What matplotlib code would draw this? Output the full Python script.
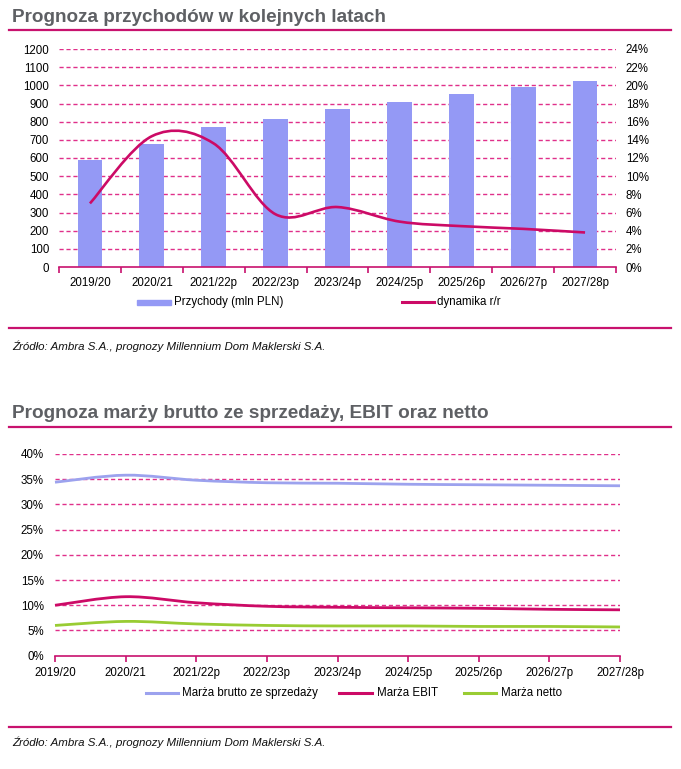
import numpy as np
import matplotlib
matplotlib.use("Agg")
import matplotlib.pyplot as plt
from matplotlib.path import Path
from matplotlib.patches import PathPatch, Rectangle
from matplotlib.lines import Line2D
from matplotlib.ticker import FuncFormatter

plt.rcParams['font.family'] = ['Liberation Sans', 'DejaVu Sans']

# ---------------- data ----------------
years_top = ["2019/20", "2020/21", "2021/22p", "2022/23p", "2023/24p",
             "2024/25p", "2025/26p", "2026/27p", "2027/28p"]
revenue = [590, 675, 772, 812, 868, 906, 950, 992, 1025]          # mln PLN
growth = [7.0, 14.4, 13.6, 5.8, 6.6, 5.0, 4.5, 4.2, 3.8]           # %

years_bot = ["2019/20", "2020/21", "2021/22p", "2022/23p", "2023/24p",
             "2024/25p", "2025/26p", "2026/27p", "2027/28p"]
gross_margin = [34.4, 35.8, 34.8, 34.3, 34.2, 34.0, 33.9, 33.8, 33.7]
ebit_margin = [10.0, 11.7, 10.5, 9.8, 9.6, 9.5, 9.4, 9.2, 9.1]
net_margin = [6.0, 6.8, 6.3, 6.0, 5.9, 5.9, 5.8, 5.8, 5.7]

title_top = "Prognoza przychodów w kolejnych latach"
title_bot = "Prognoza marży brutto ze sprzedaży, EBIT oraz netto"
source = "Źródło: Ambra S.A., prognozy Millennium Dom Maklerski S.A."

# ---------------- style ----------------
W, H = 681, 769
MAG = '#C8126E'
GRID = '#E0308A'
BAR = '#9499F5'
GRAY = '#5E6064'
C_GROSS = '#9CA2EE'
C_EBIT = '#CC0A66'
C_NET = '#99CC33'
FS = 8.3

fig = plt.figure(figsize=(W / 100, H / 100), dpi=100)


def fx(x):
    return x / W


def fy(y):
    return 1 - y / H


def smooth_path(xs, ys):
    pts = np.column_stack([xs, ys]).astype(float)
    n = len(pts)
    verts = [pts[0]]
    codes = [Path.MOVETO]
    for i in range(n - 1):
        p0 = pts[i - 1] if i > 0 else pts[i]
        p1 = pts[i]
        p2 = pts[i + 1]
        p3 = pts[i + 2] if i + 2 < n else pts[i + 1]
        c1 = p1 + (p2 - p0) / 6
        c2 = p2 - (p3 - p1) / 6
        verts += [c1, c2, p2]
        codes += [Path.CURVE4] * 3
    return Path(verts, codes)


def hline(y, x0=9, x1=671, lw=1.6):
    fig.add_artist(Line2D([fx(x0), fx(x1)], [fy(y), fy(y)], color=MAG, lw=lw,
                          transform=fig.transFigure))


# ---------------- titles / separators ----------------
fig.text(fx(12), fy(17), title_top, fontsize=13.6, fontweight='bold', color=GRAY,
         va='center', ha='left')
hline(30)
hline(328)
fig.text(fx(12), fy(346), source, fontsize=8.25, style='italic', color='#111111',
         va='center', ha='left')

fig.text(fx(12), fy(413), title_bot, fontsize=13.7, fontweight='bold', color=GRAY,
         va='center', ha='left')
hline(427)
hline(727)
fig.text(fx(12), fy(742), source, fontsize=8.25, style='italic', color='#111111',
         va='center', ha='left')

# ---------------- top chart ----------------
ax = fig.add_axes([fx(59), fy(267), fx(616) - fx(59), fy(49) - fy(267)])
x = np.arange(len(years_top))
ax.bar(x, revenue, width=0.40, color=BAR, zorder=3)
ax.set_xlim(-0.5, len(years_top) - 0.5)
ax.set_ylim(0, 1200)
ax.set_yticks(np.arange(0, 1201, 100))
for v in range(100, 1201, 100):
    ax.axhline(v, color=GRID, lw=1.0, ls=(0, (3, 2)), zorder=1)
for s in ['top', 'left', 'right']:
    ax.spines[s].set_visible(False)
ax.spines['bottom'].set_color(MAG)
ax.spines['bottom'].set_linewidth(1.2)
ax.spines['bottom'].set_zorder(4)
ax.set_xticks(x)
ax.set_xticklabels(years_top, fontsize=FS)
ax.set_xticks(np.arange(-0.5, len(years_top)), minor=True)
ax.tick_params(axis='x', which='major', length=0, pad=7)
ax.tick_params(axis='x', which='minor', length=4, color=MAG, width=1.2, direction='out')
ax.tick_params(axis='y', length=0, pad=7, labelsize=FS)

ax2 = ax.twinx()
ax2.set_ylim(0, 24)
ax2.set_yticks(np.arange(0, 25, 2))
ax2.yaxis.set_major_formatter(FuncFormatter(lambda v, p: f"{v:.0f}%"))
ax2.tick_params(axis='y', length=0, pad=7, labelsize=FS)
for s in ['top', 'left', 'right', 'bottom']:
    ax2.spines[s].set_visible(False)
ax2.add_patch(PathPatch(smooth_path(x, growth), fill=False, edgecolor=C_EBIT,
                        lw=1.9, zorder=5, capstyle='butt'))

# legend (top)
fig.add_artist(Rectangle((fx(137), fy(304.5)), fx(171) - fx(137), 5 / H,
                         color=BAR, transform=fig.transFigure))
fig.text(fx(174), fy(302), "Przychody (mln PLN)", fontsize=FS, va='center', ha='left')
fig.add_artist(Line2D([fx(402), fx(434)], [fy(302), fy(302)], color=C_EBIT, lw=2.2,
                      transform=fig.transFigure))
fig.text(fx(437), fy(302), "dynamika r/r", fontsize=FS, va='center', ha='left')

# ---------------- bottom chart ----------------
bx = fig.add_axes([fx(55), fy(655.7), fx(620) - fx(55), fy(454) - fy(655.7)])
xb = np.arange(len(years_bot))
bx.set_xlim(0, len(years_bot) - 1)
bx.set_ylim(0, 40)
bx.set_yticks(np.arange(0, 41, 5))
bx.yaxis.set_major_formatter(FuncFormatter(lambda v, p: f"{v:.0f}%"))
for v in range(5, 41, 5):
    bx.axhline(v, color=GRID, lw=1.0, ls=(0, (3, 2)), zorder=1)
for s in ['top', 'left', 'right']:
    bx.spines[s].set_visible(False)
bx.spines['bottom'].set_color(MAG)
bx.spines['bottom'].set_linewidth(1.2)
bx.set_xticks(xb)
bx.set_xticklabels(years_bot, fontsize=FS)
bx.tick_params(axis='x', length=4, color=MAG, width=1.2, direction='out', pad=4)
bx.tick_params(axis='y', length=0, pad=8, labelsize=FS)
for vals, col in [(gross_margin, C_GROSS), (ebit_margin, C_EBIT), (net_margin, C_NET)]:
    p = PathPatch(smooth_path(xb, vals), fill=False, edgecolor=col, lw=2.0, zorder=4,
                  capstyle='butt')
    p.set_clip_on(False)
    bx.add_patch(p)

# legend (bottom)
for (x0, x1, tx, label, col) in [(146, 178, 182, "Marża brutto ze sprzedaży", C_GROSS),
                                  (339, 372, 377, "Marża EBIT", C_EBIT),
                                  (464, 496, 501, "Marża netto", C_NET)]:
    fig.add_artist(Line2D([fx(x0), fx(x1)], [fy(693), fy(693)], color=col, lw=2.2,
                          transform=fig.transFigure))
    fig.text(fx(tx), fy(693), label, fontsize=FS, va='center', ha='left')

fig.savefig("out.png", dpi=100)
